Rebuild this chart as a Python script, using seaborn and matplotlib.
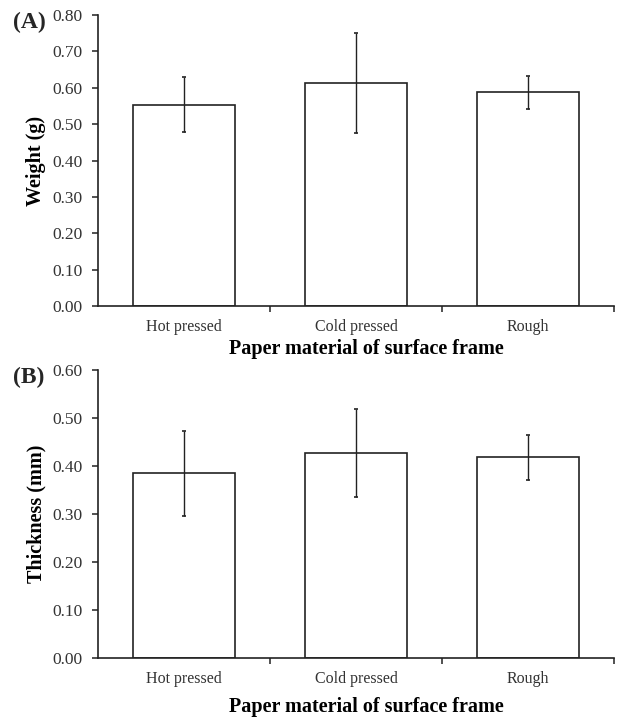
import numpy as np
import pandas as pd
import seaborn as sns
import matplotlib.pyplot as plt
from matplotlib.ticker import FixedLocator, MultipleLocator, FormatStrFormatter

# data
materials = ['Hot pressed', 'Cold pressed', 'Rough']
weight_mean = [0.554, 0.614, 0.588]
weight_err = [0.075, 0.138, 0.045]
thick_mean = [0.385, 0.427, 0.418]
thick_err = [0.089, 0.091, 0.046]

sns.set_theme(style='white')
plt.rcParams['font.family'] = ['Liberation Serif', 'DejaVu Serif']

INK = '#222222'

fig = plt.figure(figsize=(6.18, 7.17), dpi=100)
ax_a = fig.add_axes([0.1586, 0.5732, 0.835, 0.4058])
ax_b = fig.add_axes([0.1586, 0.0816, 0.835, 0.4024])


def panel(ax, means, errs, ymax, ylabel, xlab_y):
    df = pd.DataFrame({'material': materials, 'value': means})
    sns.barplot(data=df, x='material', y='value', color='white',
                edgecolor=INK, linewidth=1.2, width=0.59, errorbar=None,
                saturation=1, ax=ax)
    xs = [p.get_x() + p.get_width() / 2 for p in ax.patches]
    ax.errorbar(xs, means, yerr=errs, fmt='none', ecolor=INK,
                elinewidth=1.0, capsize=1.6, capthick=1.2)
    ax.set_xlim(-0.5, 2.5)
    ax.set_ylim(0, ymax)
    ax.yaxis.set_major_locator(MultipleLocator(0.1))
    ax.yaxis.set_major_formatter(FormatStrFormatter('%.2f'))
    ax.xaxis.set_minor_locator(FixedLocator([0.5, 1.5, 2.5]))
    for s in ['top', 'right']:
        ax.spines[s].set_visible(False)
    for s in ['left', 'bottom']:
        ax.spines[s].set_color(INK)
        ax.spines[s].set_linewidth(1.2)
    ax.tick_params(axis='y', which='major', direction='out', length=4,
                   width=1.1, color=INK, left=True, labelsize=12.5,
                   labelcolor='#333333', pad=7)
    ax.tick_params(axis='x', which='major', length=0, labelsize=11.5,
                   labelcolor='#333333', pad=9)
    ax.tick_params(axis='x', which='minor', direction='out', length=4,
                   width=1.1, color=INK, bottom=True)
    ax.set_xlabel('Paper material of surface frame', fontsize=14.5,
                  fontweight='bold', color='black')
    ax.xaxis.set_label_coords(0.52, xlab_y)
    ax.xaxis.label.set_va('top')
    ax.set_ylabel(ylabel, fontsize=14.5, fontweight='bold', color='black')
    ax.yaxis.set_label_coords(-0.1, 0.5)


panel(ax_a, weight_mean, weight_err, 0.8, 'Weight (g)', -0.112)
panel(ax_b, thick_mean, thick_err, 0.6, 'Thickness (mm)', -0.135)

fig.text(13 / 618, 1 - 22 / 717, '(A)', fontsize=17, fontweight='bold',
         ha='left', va='center')
fig.text(13 / 618, 1 - 377 / 717, '(B)', fontsize=17, fontweight='bold',
         ha='left', va='center')

fig.savefig('out.png', dpi=100, facecolor='white')
